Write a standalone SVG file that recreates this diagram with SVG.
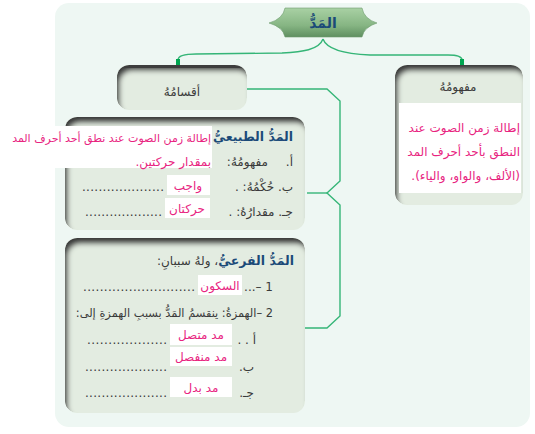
<svg xmlns="http://www.w3.org/2000/svg" width="535" height="434" viewBox="0 0 535 434">
<defs>
<style>
text{font-family:"DejaVu Sans",sans-serif;}
.ar{direction:rtl;text-anchor:start;}
.mid{text-anchor:middle;}
.g{fill:#3a3a3a;font-size:12px;}
.p{fill:#e8247f;font-size:12px;}
.b{fill:#1b4a78;font-size:12.5px;font-weight:bold;}
.dots{fill:#3a3a3a;font-size:12px;}
.box{fill:#e3ece1;filter:url(#inset);}
.wh{fill:#ffffff;}
.con{fill:none;stroke:#35b577;stroke-width:1.4;}
</style>
<filter id="inset" x="-5%" y="-5%" width="110%" height="110%">
<feGaussianBlur in="SourceAlpha" stdDeviation="2.8" result="bl"/>
<feOffset in="bl" dx="3" dy="6" result="off"/>
<feComposite in="SourceAlpha" in2="off" operator="arithmetic" k2="1" k3="-1" result="band"/>
<feFlood flood-color="#3c3c3c" result="c"/>
<feComposite in="c" in2="band" operator="in" result="sh"/>
<feMerge><feMergeNode in="SourceGraphic"/><feMergeNode in="sh"/></feMerge>
</filter>
<linearGradient id="topg" x1="0" y1="0" x2="0" y2="1">
<stop offset="0" stop-color="#a9d1a4"/>
<stop offset="0.6" stop-color="#86b583"/>
<stop offset="1" stop-color="#5f8f60"/>
</linearGradient>
</defs>
<rect x="55" y="3" width="475" height="424" rx="14" fill="#eef7f3"/>

<g id="connectors">
<path class="con" d="M323,39 C319,50 302,52 282,53 L196,54 C183,54 178,56 178,60"/>
<path class="con" d="M323,39 C327,50 346,54 370,55 L448,55 C459,55 462,57 462,60"/>
<rect x="176" y="59" width="4" height="6" fill="#00a651"/>
<rect x="460" y="59" width="4" height="6" fill="#00a651"/>
<path class="con" d="M247,89 L327,89 L340,101 L340,181 L327,193 L340,205 L340,316 L327,328 L305,328"/>
<path class="con" d="M307,193 L327,193" stroke-width="2.2"/>
</g>

<g id="node-madd">
<path d="M285,8 L362,8 Q364,19 377,23 Q364,27 362,37 L285,37 Q283,27 269,23 Q283,19 285,8 Z" fill="url(#topg)" stroke="#6f9c6e" stroke-width="0.6"/>
<text class="b mid" x="323" y="28" style="font-size:14px">المَدُّ</text>
</g>

<g id="node-aqsam">
<rect class="box" x="117" y="65" width="130" height="45" rx="12"/>
<text class="g mid" x="182" y="96">أقسامُهُ</text>
</g>

<g id="node-mafhum">
<rect class="box" x="395" y="65" width="128" height="140" rx="12"/>
<rect class="wh" x="399" y="103" width="122" height="90"/>
<text class="g mid" x="458" y="91">مفهومُهُ</text>
<text class="p ar" x="520" y="132">إطالة زمن الصوت عند</text>
<text class="p ar" x="520" y="156">النطق بأحد أحرف المد</text>
<text class="p ar" x="520" y="180">(الألف، والواو، والياء).</text>
</g>

<g id="node-tabii">
<rect class="box" x="65" y="117" width="240" height="113" rx="12"/>
<text class="b ar" x="293" y="141">المَدُّ الطبيعيُّ</text>
<rect class="wh" x="0" y="126" width="212" height="42"/>
<text class="p ar" x="211" y="142" style="font-size:11px">إطالة زمن الصوت عند نطق أحد أحرف المد</text>
<text class="g ar" x="293" y="166">أ.</text>
<text class="g ar" x="268" y="166">مفهومُهُ:</text>
<text class="p ar" x="211" y="166">بمقدار حركتين.</text>
<text class="g ar" x="293" y="191">ب. حُكْمُهُ: .</text>
<text class="dots" x="82" y="191" textLength="82" lengthAdjust="spacing">....................</text>
<rect class="wh" x="167" y="175" width="43" height="20"/>
<text class="p mid" x="188" y="190">واجب</text>
<text class="g ar" x="293" y="216">جـ. مقدارُهُ: .</text>
<text class="dots" x="85" y="216" textLength="77" lengthAdjust="spacing">...................</text>
<rect class="wh" x="165" y="198" width="45" height="20"/>
<text class="p mid" x="187" y="213">حركتان</text>
</g>

<g id="node-farii">
<rect class="box" x="65" y="238" width="240" height="175" rx="12"/>
<text class="g ar" x="294" y="265"><tspan class="b">المَدُّ الفرعيُّ</tspan><tspan>، ولهُ سببانِ:</tspan></text>
<text class="g ar" x="273" y="291">1 –...</text>
<text class="dots" x="83" y="291" textLength="112" lengthAdjust="spacing">...........................</text>
<rect class="wh" x="198" y="275" width="44" height="20"/>
<text class="p mid" x="220" y="290">السكون</text>
<text class="g ar" x="273" y="317" style="font-size:11.4px">2 –الهمزةُ: ينقسمُ المَدُّ بسببِ الهمزةِ إلى:</text>
<text class="g ar" x="256" y="344">أ . .</text>
<text class="dots" x="87" y="344" textLength="80" lengthAdjust="spacing">...................</text>
<rect class="wh" x="170" y="324" width="62" height="21"/>
<text class="p mid" x="201" y="339">مد متصل</text>
<text class="g ar" x="254" y="371">ب.</text>
<text class="dots" x="85" y="371" textLength="82" lengthAdjust="spacing">....................</text>
<rect class="wh" x="170" y="347" width="62" height="19"/>
<text class="p mid" x="201" y="361">مد منفصل</text>
<text class="g ar" x="254" y="397">جـ.</text>
<text class="dots" x="85" y="397" textLength="82" lengthAdjust="spacing">....................</text>
<rect class="wh" x="170" y="377" width="62" height="20"/>
<text class="p mid" x="201" y="392">مد بدل</text>
</g>
</svg>
